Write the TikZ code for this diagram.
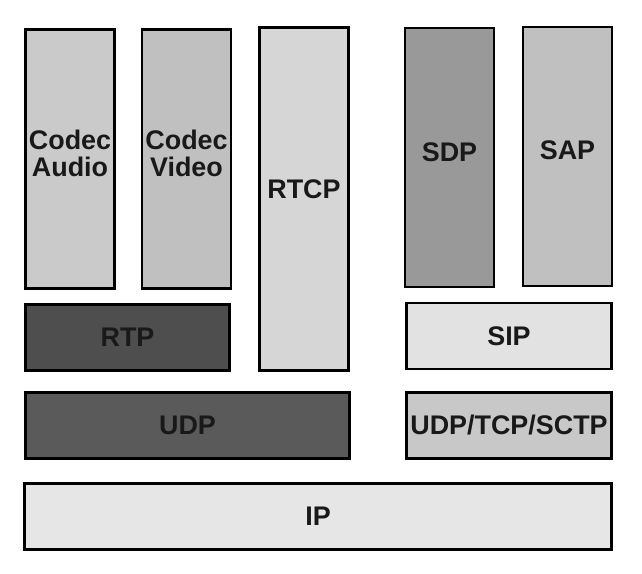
\documentclass[tikz,border=0pt]{standalone}
\usepackage{fontspec}
\setmainfont{Liberation Sans}
\usepackage{tikz}
\usetikzlibrary{positioning}
\definecolor{gAudio}{HTML}{CACACA}
\definecolor{gVideo}{HTML}{C0C0C0}
\definecolor{gRtcp}{HTML}{D6D6D6}
\definecolor{gSdp}{HTML}{999999}
\definecolor{gSap}{HTML}{C0C0C0}
\definecolor{gRtp}{HTML}{4E4E4E}
\definecolor{gSip}{HTML}{E2E2E2}
\definecolor{gUdp}{HTML}{5A5A5A}
\definecolor{gTrans}{HTML}{C8C8C8}
\definecolor{gIp}{HTML}{E6E6E6}
\tikzset{
    layer/.style args={#1}{fill=#1, draw=black, line width=2.5bp, text=black!90,
        font=\fontsize{27}{27}\selectfont\bfseries, align=center, inner sep=0pt},
    lift/.style={text depth=#1}
}

\begin{document}
\begin{tikzpicture}[x=1bp,y=-1bp]
\def\bw{89}     % width of a column box
\def\bh{259}    % height of a column box
\def\lh{66}     % height of a layer bar
\useasboundingbox (0,0) rectangle (642,574);
% columns on top
\node[layer=gAudio, lift=12bp, minimum width=\bw bp, minimum height=\bh bp] (audio) at (70,159) {Codec\\Audio};
\node[layer=gVideo, lift=12bp, minimum width=\bw bp, minimum height=\bh bp] (video) at (186.5,159) {Codec\\Video};
\node[layer=gRtcp, lift=20bp, minimum width=\bw bp, minimum height=343bp] (rtcp) at (304,199) {RTCP};
\node[layer=gSdp, lift=10bp, minimum width=\bw bp, minimum height=\bh bp] (sdp) at (449.5,157.5) {SDP};
\node[layer=gSap, lift=12bp, minimum width=\bw bp, minimum height=\bh bp] (sap) at (567.5,156.5) {SAP};
% layer bars
\node[layer=gRtp, minimum width=204bp, minimum height=\lh bp] (rtp) at (127.5,337.5) {RTP};
\node[layer=gSip, minimum width=205bp, minimum height=\lh bp] (sip) at (509,336) {SIP};
\node[layer=gUdp, minimum width=324bp, minimum height=\lh bp] (udp) at (187.5,425.5) {UDP};
\node[layer=gTrans, minimum width=205bp, minimum height=\lh bp] (trans) at (509,425.5) {UDP/TCP/SCTP};
\node[layer=gIp, minimum width=587bp, minimum height=\lh bp] (ip) at (318,516.5) {IP};
\end{tikzpicture}
\end{document}
